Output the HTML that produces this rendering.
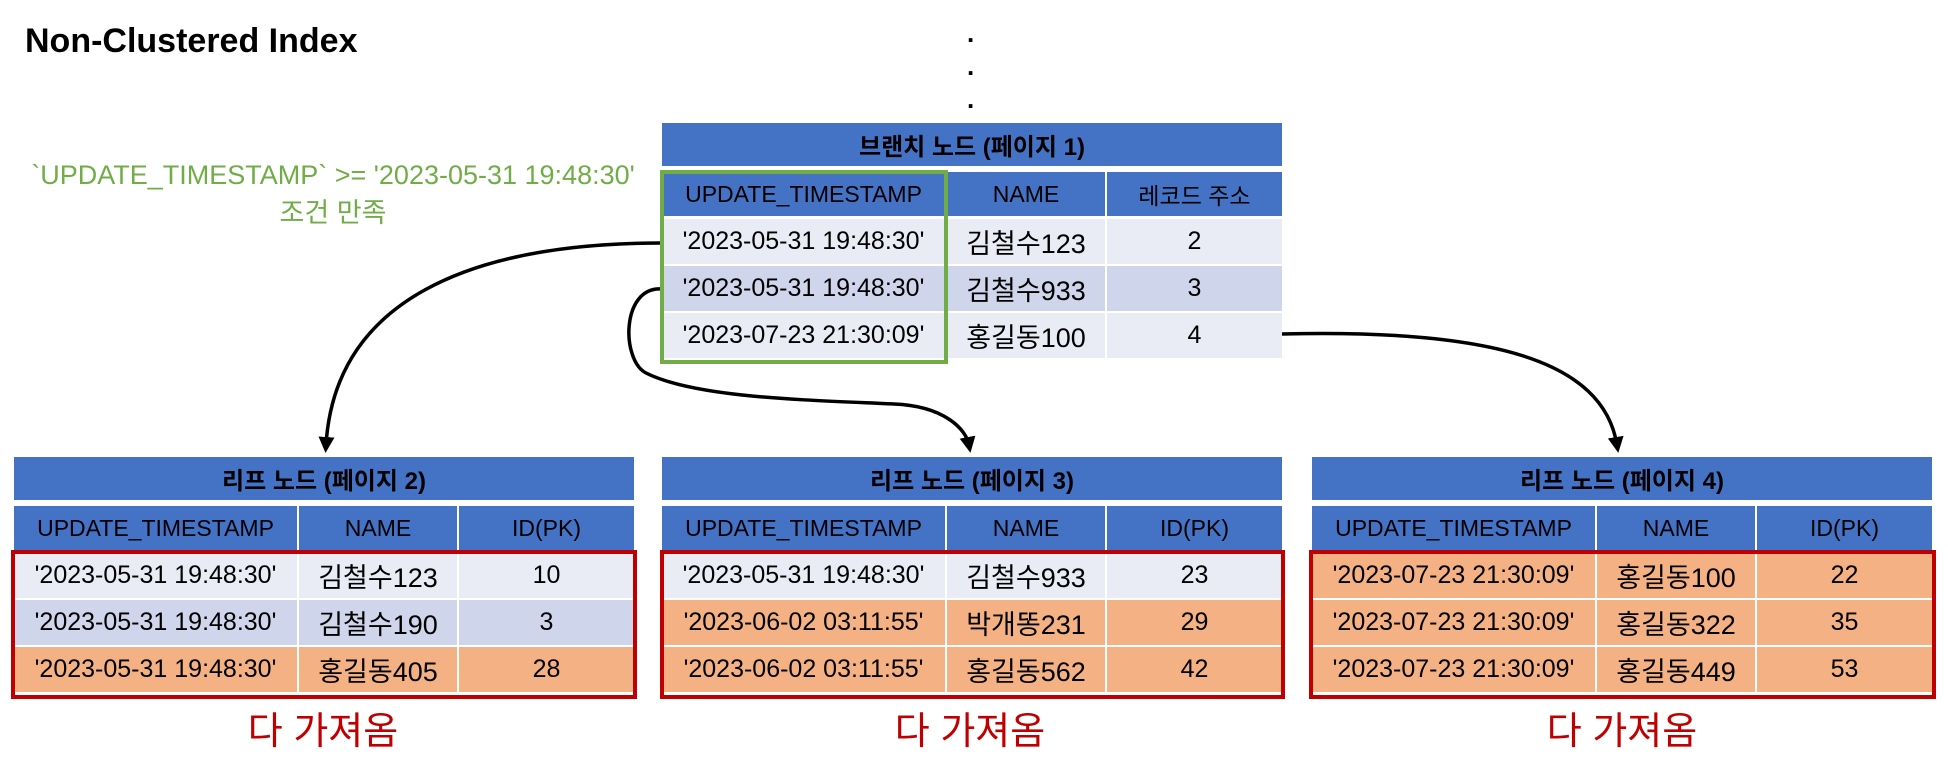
<!DOCTYPE html>
<html><head><meta charset="utf-8">
<style>
html,body{margin:0;padding:0;background:#fff;}
body{width:1948px;height:770px;position:relative;overflow:hidden;font-family:"Liberation Sans","Noto Sans CJK KR",sans-serif;}
.abs{position:absolute;}
.cell{position:absolute;display:flex;align-items:center;justify-content:center;font-size:25px;color:#000;white-space:nowrap;}
.hd{background:#4472c4;font-size:23px;}
.ttl{background:#4472c4;font-weight:bold;font-size:24px;}
.nm{font-size:27px;}
.l{background:#e9ebf5;}
.m{background:#cfd5ea;}
.o{background:#f4b183;}
.note{position:absolute;color:#c00000;font-size:38px;white-space:nowrap;transform:translateX(-50%);}
</style></head><body>
<div class="abs" style="left:25px;top:22px;font-weight:bold;font-size:34px;">Non-Clustered Index</div>
<div class="abs" style="left:967px;top:17px;font-size:26px;line-height:33px;font-weight:bold;">.<br>.<br>.</div>
<div class="abs" style="left:333px;top:156px;transform:translateX(-50%);color:#70ad47;font-size:27px;text-align:center;white-space:nowrap;line-height:38px;">`UPDATE_TIMESTAMP` &gt;= '2023-05-31 19:48:30'<br>조건 만족</div>

<svg class="abs" style="left:0;top:0" width="1948" height="770">
<defs><marker id="ah" markerWidth="16" markerHeight="16" refX="8" refY="8" orient="auto" markerUnits="userSpaceOnUse" viewBox="0 0 16 16"><path d="M0,0 L16,8 L0,16 z" fill="#000"/></marker></defs>
<path d="M662,243 C470,243 335,300 326,445" fill="none" stroke="#000" stroke-width="3.5" marker-end="url(#ah)"/>
<path d="M662,289 C621,286 621,360 646,373 C696,398 807,400 894,404 C944,406 966,429 969,445" fill="none" stroke="#000" stroke-width="3.5" marker-end="url(#ah)"/>
<path d="M1282,334 C1491,329 1603,360 1617,445" fill="none" stroke="#000" stroke-width="3.5" marker-end="url(#ah)"/>
</svg>

<div id="tables"></div>

<div class="note" style="left:323px;top:700px;">다 가져옴</div>
<div class="note" style="left:970px;top:700px;">다 가져옴</div>
<div class="note" style="left:1622px;top:700px;">다 가져옴</div>

<script>
function mk(parent, cls, x, y, w, h, text, name){
  var d=document.createElement('div');
  d.className='cell '+cls;
  d.style.left=x+'px';d.style.top=y+'px';d.style.width=w+'px';d.style.height=h+'px';
  d.textContent=text;
  
  
  parent.appendChild(d);
}
var root=document.getElementById('tables');
function build(x0, yTitle, title, col3, rows, shades, key){
  var xs=[x0, x0+285, x0+445], ws=[283, 158, 175];
  mk(root,'ttl',x0,yTitle,620,43,title,key+'-title');
  var yh=yTitle+49;
  var hdrs=['UPDATE_TIMESTAMP','NAME',col3];
  for(var c=0;c<3;c++) mk(root,'hd',xs[c],yh,ws[c],44,hdrs[c],key+'-col-header');
  for(var r=0;r<3;r++){
    var y=yh+47+r*47;
    for(var c2=0;c2<3;c2++) mk(root,shades[r]+(c2==1?' nm':''),xs[c2],y,ws[c2],45,rows[r][c2],key+'-cell');
  }
}
build(662,123,'브랜치 노드 (페이지 1)','레코드 주소',
 [["'2023-05-31 19:48:30'",'김철수123','2'],["'2023-05-31 19:48:30'",'김철수933','3'],["'2023-07-23 21:30:09'",'홍길동100','4']],
 ['l','m','l'],'branch-page-1');
build(14,457,'리프 노드 (페이지 2)','ID(PK)',
 [["'2023-05-31 19:48:30'",'김철수123','10'],["'2023-05-31 19:48:30'",'김철수190','3'],["'2023-05-31 19:48:30'",'홍길동405','28']],
 ['l','m','o'],'leaf-page-2');
build(662,457,'리프 노드 (페이지 3)','ID(PK)',
 [["'2023-05-31 19:48:30'",'김철수933','23'],["'2023-06-02 03:11:55'",'박개똥231','29'],["'2023-06-02 03:11:55'",'홍길동562','42']],
 ['l','o','o'],'leaf-page-3');
build(1312,457,'리프 노드 (페이지 4)','ID(PK)',
 [["'2023-07-23 21:30:09'",'홍길동100','22'],["'2023-07-23 21:30:09'",'홍길동322','35'],["'2023-07-23 21:30:09'",'홍길동449','53']],
 ['o','o','o'],'leaf-page-4');

function box(x,y,w,h,color,name){
  var b=document.createElement('div');
  b.style.cssText='position:absolute;box-sizing:border-box;left:'+x+'px;top:'+y+'px;width:'+w+'px;height:'+h+'px;border:4px solid '+color+';';
  
  
  root.appendChild(b);
}
box(660,170,288,194,'#70ad47','condition-highlight-box');
box(11,550,626,149,'#c00000','fetched-rows-box-page-2');
box(660,550,625,149,'#c00000','fetched-rows-box-page-3');
box(1309,550,627,149,'#c00000','fetched-rows-box-page-4');
</script>
</body></html>
